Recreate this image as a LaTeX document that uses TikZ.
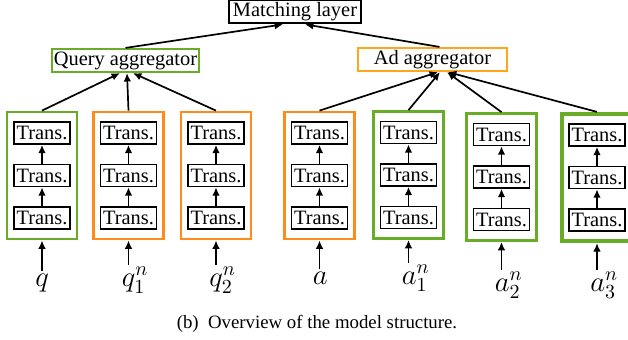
\documentclass[tikz,border=0pt]{standalone}
\usepackage[no-math]{fontspec}
\setmainfont{Liberation Serif}
\usetikzlibrary{arrows.meta,positioning}
\definecolor{aggGreen}{RGB}{104,172,40}
\definecolor{aggOrange}{RGB}{255,140,26}
\definecolor{adOrange}{RGB}{255,166,26}
\tikzset{
	layerbox/.style={draw,line width=1.1pt,minimum height=11.5pt,inner sep=0pt,font=\fontsize{10.2}{11}\selectfont},
	transbox/.style={draw,line width=0.8pt,minimum width=28pt,minimum height=11pt,inner sep=0pt,font=\fontsize{10.2}{11}\selectfont},
	colbox/.style={draw=#1,line width=1.4pt,minimum width=35pt,minimum height=63.5pt,inner sep=0pt},
	flow/.style={-{Latex[length=4.2pt,width=3.8pt]},line width=0.85pt},
	seqlabel/.style={font=\fontsize{14}{14}\selectfont,inner sep=0pt,anchor=base west}
}
\begin{document}
\begin{tikzpicture}[x=0.5pt,y=-0.5pt]
	\useasboundingbox (0,0) rectangle (628,339);
	% top layers
	\node[layerbox,line width=1.4pt,minimum width=66pt] (match) at (295,11.5) {Matching layer};
	\node[layerbox,draw=aggGreen,minimum width=73.5pt] (qagg) at (125.5,60.5) {Query aggregator};
	\node[layerbox,draw=adOrange,minimum width=74.5pt] (aagg) at (432.5,59.5) {Ad aggregator};
	\draw[flow] (qagg.north) -- ([xshift=-6pt]match.south);
	\draw[flow] ([xshift=3.5pt]aagg.north) -- ([xshift=5pt]match.south);
	% encoder columns
	\foreach \n/\cx/\cy/\cc/\lw/\lab/\idx/\ly in {
		q/42/175.5/aggGreen/1.4/q//286,
		qa/128.5/175.5/aggOrange/1.4/q/^n_1/286,
		qb/216/175.5/aggOrange/1.4/q/^n_2/286,
		a/319.5/175.5/aggOrange/1.4/a//284,
		aa/408.5/175/aggGreen/1.4/a/^n_1/284,
		ab/501.5/177/aggGreen/1.4/a/^n_2/291,
		ac/597/177.5/aggGreen/2.1/a/^n_3/291}{
		\node[colbox=\cc,line width=\lw pt] (col\n) at (\cx,\cy) {};
		\node[transbox] (\n1) at (\cx,\cy+42.5) {Trans.};
		\node[transbox] (\n2) at (\cx,\cy) {Trans.};
		\node[transbox] (\n3) at (\cx,\cy-42.5) {Trans.};
		\draw[flow] (\n1) -- (\n2);
		\draw[flow] (\n2) -- (\n3);
		\node[seqlabel] (in\n) at (\cx-7,\ly) {$\lab\idx$};
		\draw[flow,shorten <=1pt] (in\n.north -| col\n.south) -- (col\n.south);
	}
	% into the aggregators
	\draw[flow] (colq.north) -- ([xshift=-2.75pt]qagg.south);
	\draw[flow] (colqa.north) -- ([xshift=0.75pt]qagg.south);
	\draw[flow] (colqb.north) -- ([xshift=3.75pt]qagg.south);
	\draw[flow] (cola.north) -- ([xshift=2.75pt]aagg.south);
	\draw[flow] (colaa.north) -- ([xshift=3.75pt]aagg.south);
	\draw[flow] (colab.north) -- ([xshift=7.25pt]aagg.south);
	\draw[flow] (colac.north) -- ([xshift=7.75pt]aagg.south);
	% caption
	\node[font=\fontsize{9.4}{10}\selectfont,anchor=base] (cap) at (317,328) {(b)\enspace Overview of the model structure.};
\end{tikzpicture}
\end{document}
